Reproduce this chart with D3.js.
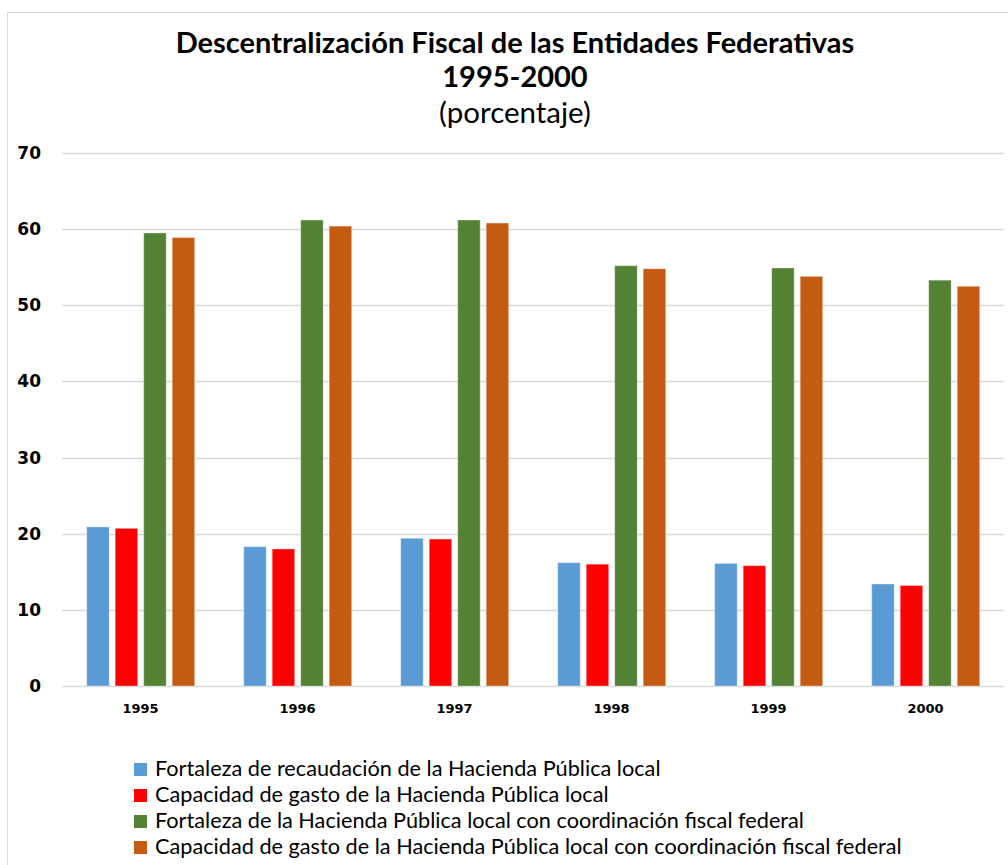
<!DOCTYPE html>
<html>
<head>
<meta charset="utf-8">
<script src="https://cdn.jsdelivr.net/npm/d3@7"></script>
<style>
  body { margin: 0; background: #fff; }
</style>
</head>
<body>
<script>
//declare data
var years = ["1995", "1996", "1997", "1998", "1999", "2000"];
var seriesNames = [
  "Fortaleza de recaudación de la Hacienda Pública local",
  "Capacidad de gasto de la Hacienda Pública local",
  "Fortaleza de la Hacienda Pública local con coordinación fiscal federal",
  "Capacidad de gasto de la Hacienda Pública local con coordinación fiscal federal"
];
var fortalezaRecaudacion = [20.9, 18.3, 19.4, 16.2, 16.1, 13.4];
var capacidadGasto = [20.7, 18.0, 19.3, 16.0, 15.8, 13.2];
var fortalezaCoordinacion = [59.5, 61.2, 61.2, 55.2, 54.9, 53.3];
var capacidadCoordinacion = [58.9, 60.4, 60.8, 54.8, 53.8, 52.5];
var yTicks = [0, 10, 20, 30, 40, 50, 60, 70];
var colors = ["#5b9bd5", "#ff0000", "#548235", "#c55a11"];

var seriesValues = [fortalezaRecaudacion, capacidadGasto, fortalezaCoordinacion, capacidadCoordinacion];

//create svg
var svg = d3.select("body").append("svg")
    .attr("width", 1008)
    .attr("height", 865);

//chart frame (only top and left edges are visible)
svg.append("path")
    .attr("d", "M7.5,865V12.5H1008")
    .attr("fill", "none")
    .attr("stroke", "#d9d9d9");

//title
var title = svg.append("text")
    .attr("text-anchor", "middle")
    .attr("font-family", "Lato, sans-serif")
    .attr("fill", "#000");
title.append("tspan").attr("x", 515).attr("y", 53)
    .attr("font-size", 29).attr("font-weight", "bold")
    .text("Descentralización Fiscal de las Entidades Federativas");
title.append("tspan").attr("x", 515).attr("y", 87)
    .attr("font-size", 29).attr("font-weight", "bold")
    .text("1995-2000");
title.append("tspan").attr("x", 515).attr("y", 123)
    .attr("font-size", 29.5)
    .text("(porcentaje)");

//scales
var plotLeft = 62, plotRight = 1004, plotTop = 153, plotBottom = 686;

var x = d3.scaleBand()
    .domain(years)
    .range([plotLeft, plotRight]);

var xInner = d3.scaleBand()
    .domain(d3.range(seriesNames.length))
    .range([24.7, 132.7])
    .paddingInner(0.21);

var y = d3.scaleLinear()
    .domain([0, 70])
    .range([plotBottom, plotTop]);

//gridlines
svg.append("g").selectAll("line")
    .data(yTicks)
    .enter().append("line")
    .attr("x1", plotLeft)
    .attr("x2", plotRight)
    .attr("y1", function(d){ return Math.round(y(d)) + 0.5; })
    .attr("y2", function(d){ return Math.round(y(d)) + 0.5; })
    .attr("stroke", "#d9d9d9")
    .attr("stroke-width", 1.3);

//y axis labels
var yAxis = svg.append("g")
    .attr("transform", "translate(41,0)")
    .call(d3.axisLeft(y).tickValues(yTicks).tickSize(0).tickPadding(0));
yAxis.select(".domain").remove();
yAxis.selectAll("text")
    .attr("font-family", "DejaVu Sans, sans-serif")
    .attr("font-weight", "bold")
    .attr("font-size", 17)
    .attr("fill", "#000");

//bars grouped by year
var groups = svg.append("g").selectAll("g")
    .data(years)
    .enter().append("g")
    .attr("transform", function(d){ return "translate(" + x(d) + ",0)"; });

groups.selectAll("rect")
    .data(function(d, i){ return seriesValues.map(function(s, k){ return {k: k, v: s[i]}; }); })
    .enter().append("rect")
    .attr("x", function(d){ return xInner(d.k); })
    .attr("width", xInner.bandwidth())
    .attr("y", function(d){ return y(d.v); })
    .attr("height", function(d){ return y(0) - y(d.v); })
    .attr("fill", function(d){ return colors[d.k]; })
    .attr("stroke", "#ffffff")
    .attr("stroke-opacity", 0.35)
    .attr("stroke-width", 1);

//x axis labels
var xAxis = svg.append("g")
    .attr("transform", "translate(0," + plotBottom + ")")
    .call(d3.axisBottom(x).tickSize(0).tickPadding(18));
xAxis.select(".domain").remove();
xAxis.selectAll("text")
    .attr("font-family", "DejaVu Sans, sans-serif")
    .attr("font-weight", "bold")
    .attr("font-size", 13)
    .attr("fill", "#000");

//legend
var legend = svg.append("g").selectAll("g")
    .data(seriesNames)
    .enter().append("g")
    .attr("transform", function(d, i){ return "translate(134," + (763 + i * 26) + ")"; });

legend.append("rect")
    .attr("width", 13)
    .attr("height", 13)
    .attr("fill", function(d, i){ return colors[i]; });

legend.append("text")
    .attr("x", 21)
    .attr("y", 13)
    .attr("font-family", "Lato, sans-serif")
    .attr("font-size", 21.7)
    .attr("fill", "#000")
    .text(function(d){ return d; });
</script>
</body>
</html>
